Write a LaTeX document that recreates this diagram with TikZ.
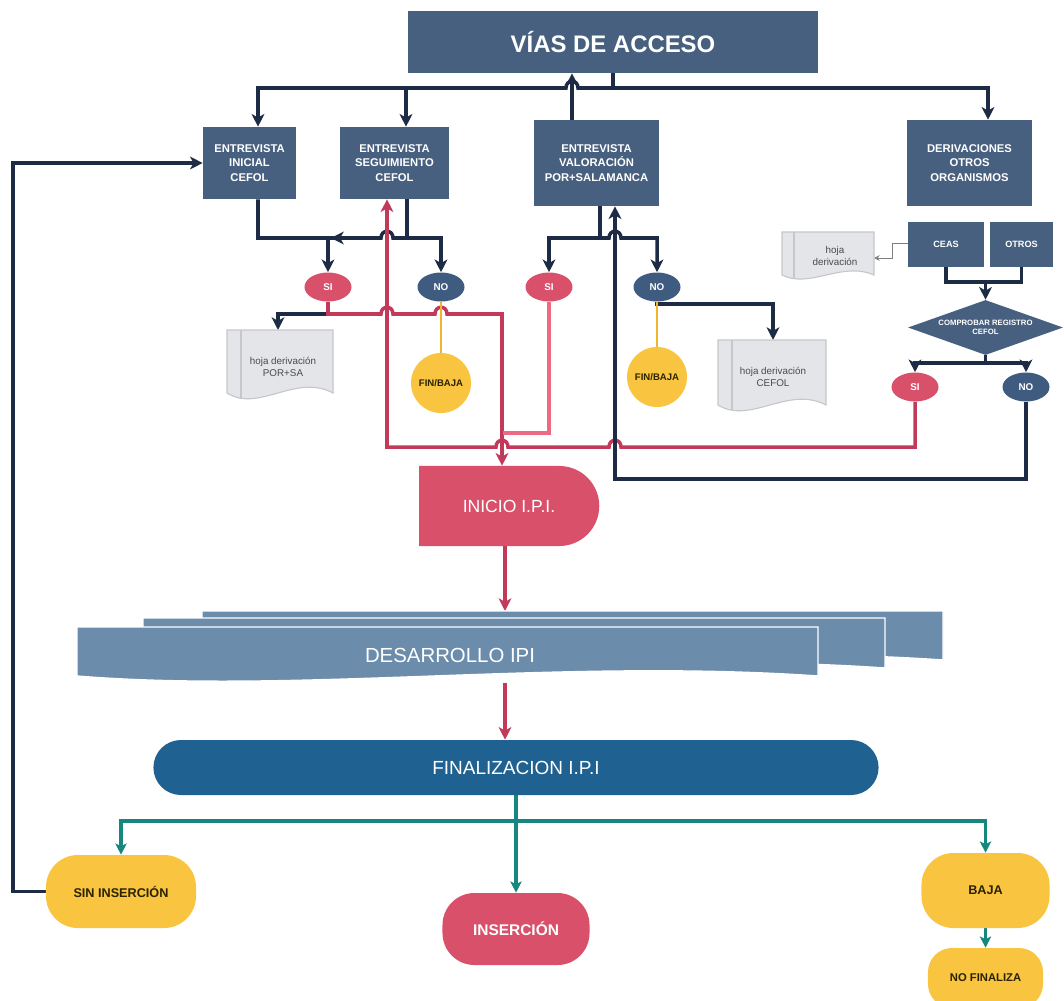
\documentclass[tikz,border=0pt]{standalone}
\usepackage{fontspec}
\setmainfont{Liberation Sans}
\usetikzlibrary{arrows.meta}
\usetikzlibrary{shapes.geometric,shapes.misc}
\usetikzlibrary{backgrounds}
\usepackage{xcolor}

\definecolor{cajaazul}{HTML}{47607F}
\definecolor{lineaazul}{HTML}{1E2B45}
\definecolor{rosa}{HTML}{D9506B}
\definecolor{carmin}{HTML}{C23A5A}
\definecolor{rosaclaro}{HTML}{EE6A84}
\definecolor{noazul}{HTML}{3F5C80}
\definecolor{amarillo}{HTML}{F9C440}
\definecolor{amarillolinea}{HTML}{F0B52A}
\definecolor{desarrollo}{HTML}{6B8CAA}
\definecolor{finazul}{HTML}{1F6190}
\definecolor{verdeazul}{HTML}{16877F}
\definecolor{hojafondo}{HTML}{E4E5E8}
\definecolor{hojaborde}{HTML}{C6C7CB}
\definecolor{hojatexto}{HTML}{4A4A4A}
\definecolor{textooscuro}{HTML}{2A2200}

\newcommand{\docforma}[6]{%
  \path[#1] (#2,#3) -- (#4,#3) -- (#4,#5)
    .. controls ({#2+0.65*(#4-#2)},{#5-#6}) and ({#2+0.3*(#4-#2)},{#5+#6}) .. (#2,#5) -- cycle;}

\tikzset{
  caja/.style={fill=cajaazul, text=white, align=center, inner sep=0pt, font=\fontsize{8}{10.3}\selectfont\bfseries},
  elipseSi/.style={ellipse, fill=rosa, text=white, minimum width=1.175cm, minimum height=0.725cm, inner sep=0pt, font=\fontsize{7}{8}\selectfont\bfseries},
  elipseNo/.style={elipseSi, fill=noazul},
  finbaja/.style={circle, fill=amarillo, text=textooscuro, minimum size=1.5cm, inner sep=0pt, font=\fontsize{6.8}{8}\selectfont\bfseries},
  hojatxt/.style={text=hojatexto, align=center, inner sep=0pt, font=\fontsize{7}{9}\selectfont},
  terminal/.style={rectangle, rounded corners=0.8cm, inner sep=0pt, font=\fontsize{9}{11}\selectfont\bfseries},
  linea/.style={draw=lineaazul, line width=2.5pt},
  flecha/.style={linea, -{Stealth[length=9pt,width=9pt,inset=2.5pt]}},
  lineaR/.style={draw=carmin, line width=2.5pt},
  flechaR/.style={lineaR, -{Stealth[length=9pt,width=9pt,inset=2.5pt]}},
  lineaP/.style={draw=rosaclaro, line width=2.5pt},
  lineaY/.style={draw=amarillolinea, line width=2pt},
  lineaT/.style={draw=verdeazul, line width=2.5pt},
  flechaT/.style={lineaT, -{Stealth[length=8pt,width=8pt,inset=2pt]}},
  lineaG/.style={draw=gray, line width=0.7pt, -{Stealth[length=4pt,width=4pt]}}
}

\begin{document}
\begin{tikzpicture}[x=0.025cm,y=-0.025cm]
\useasboundingbox (0,0) rectangle (1064,1000);

\node[caja, minimum width=10.25cm, minimum height=1.55cm, font=\fontsize{17}{20}\selectfont\bfseries] (vias) at (613,42) {VÍAS DE ACCESO};
\node[caja, minimum width=2.325cm, minimum height=1.8cm] (inicial) at (249.5,163) {ENTREVISTA\\INICIAL\\CEFOL};
\node[caja, minimum width=2.725cm, minimum height=1.8cm] (seguim) at (394.5,163) {ENTREVISTA\\SEGUIMIENTO\\CEFOL};
\node[caja, minimum width=3.125cm, minimum height=2.15cm] (valor) at (596.5,163) {ENTREVISTA\\VALORACIÓN\\POR+SALAMANCA};
\node[caja, minimum width=3.125cm, minimum height=2.15cm] (deriv) at (969.5,163) {DERIVACIONES\\OTROS\\ORGANISMOS};
\node[caja, minimum width=1.9cm, minimum height=1.125cm, font=\fontsize{6.5}{8}\selectfont\bfseries] (ceas) at (946,244.5) {CEAS};
\node[caja, minimum width=1.575cm, minimum height=1.125cm, font=\fontsize{6.5}{8}\selectfont\bfseries] (otros) at (1021.5,244.5) {OTROS};
\node[caja, diamond, aspect=2.8, minimum width=3.875cm, minimum height=1.375cm, font=\fontsize{5.5}{6.5}\selectfont\bfseries] (comprobar) at (985.5,327.5) {COMPROBAR REGISTRO\\CEFOL};

\node[elipseSi] (si1) at (328,287) {SI};
\node[elipseNo] (no1) at (441,287) {NO};
\node[elipseSi] (si2) at (549,287) {SI};
\node[elipseNo] (no2) at (657,287) {NO};
\node[elipseSi] (si3) at (915,387) {SI};
\node[elipseNo] (no3) at (1026,387) {NO};
\node[finbaja] (fin1) at (441,383) {FIN/BAJA};
\node[finbaja] (fin2) at (657,377) {FIN/BAJA};

\docforma{fill=hojafondo,draw=hojaborde,line width=0.8pt}{227}{330}{333}{393}{20}
\draw[hojaborde, line width=0.8pt] (241,330) -- (241,398);
\node[hojatxt] (hojaPor) at (283,367) {hoja derivación\\POR+SA};
\docforma{fill=hojafondo,draw=hojaborde,line width=0.8pt}{718}{340}{826}{405}{20}
\draw[hojaborde, line width=0.8pt] (732,340) -- (732,410);
\node[hojatxt] (hojaCefol) at (773,377) {hoja derivación\\CEFOL};
\docforma{fill=hojafondo,draw=hojaborde,line width=0.8pt}{782}{232}{874}{275}{14}
\draw[hojaborde, line width=0.8pt] (794,232) -- (794,279);
\node[hojatxt] (hojaDer) at (835,256) {hoja\\derivación};

\node[rounded rectangle, rounded rectangle west arc=none, fill=rosa, text=white, minimum width=4.5cm, minimum height=2cm, inner sep=0pt, font=\fontsize{12.5}{14}\selectfont] (inicio) at (509,506) {INICIO I.P.I.};

\docforma{fill=desarrollo,draw=white,line width=1pt}{202}{611}{943}{660}{18}
\docforma{fill=desarrollo,draw=white,line width=1pt}{143}{618}{885}{668}{18}
\docforma{fill=desarrollo,draw=white,line width=1pt}{77}{627}{818}{676}{18}
\node[text=white, font=\fontsize{14.5}{16}\selectfont] (desarrollo) at (450,655) {DESARROLLO IPI};

\node[rounded rectangle, fill=finazul, text=white, minimum width=18.125cm, minimum height=1.375cm, inner sep=0pt, font=\fontsize{13.5}{15}\selectfont] (final) at (516,767.5) {FINALIZACION I.P.I};

\node[terminal, fill=amarillo, text=textooscuro, minimum width=3.75cm, minimum height=1.825cm] (sinins) at (121,891.5) {SIN INSERCIÓN};
\node[terminal, fill=rosa, text=white, minimum width=3.675cm, minimum height=1.8cm, font=\fontsize{11}{13}\selectfont\bfseries] (inser) at (516,929) {INSERCIÓN};
\node[terminal, fill=amarillo, text=textooscuro, minimum width=3.2cm, minimum height=1.875cm] (baja) at (985.5,890.5) {BAJA};
\node[terminal, fill=amarillo, text=textooscuro, minimum width=2.875cm, minimum height=1.5cm, rounded corners=0.6cm, font=\fontsize{8}{10}\selectfont\bfseries] (nofin) at (985.5,978) {NO FINALIZA};

\begin{scope}[on background layer]
\coordinate (busv) at (613,88);
\draw[linea] (vias.south) -- (busv);
\draw[flecha] (busv) -- (578,88) .. controls (578,79) and (566,79) .. (566,88) -- (258,88) -- (inicial.north -| 258,0);
\draw[flecha] (406,88) -- (seguim.north -| 406,0);
\draw[flecha] (busv) -- (988,88) -- (deriv.north -| 988,0);
\draw[flecha] (valor.north -| 572,0) -- (vias.south -| 572,0);

\draw[flecha] (inicial.south -| 258,0) -- (258,238) -- (381,238) .. controls (381,229) and (393,229) .. (393,238) -- (441,238) -- (no1.north);
\draw[linea] (seguim.south -| 407,0) -- (407,238);
\draw[flecha] (347,238) -- (331,238);
\draw[flecha] (328,238) -- (si1.north);

\coordinate (hojaPorN) at (278,330);
\draw[flecha] (si1.south |- 0,314) -- (278,314) -- (hojaPorN);

\draw[flechaR] (si1.south) -- (328,314) -- (381,314) .. controls (381,305) and (393,305) .. (393,314) -- (435,314) .. controls (435,305) and (447,305) .. (447,314) -- (502,314) -- (inicio.north -| 502,0);
\draw[flechaR] (si3.south) -- (915,447) -- (621,447) .. controls (621,438) and (609,438) .. (609,447) -- (508,447) .. controls (508,438) and (496,438) .. (496,447) -- (387,447) -- (seguim.south -| 387,0);
\draw[lineaP] (si2.south) -- (549,433) -- (503,433);

\draw[linea] (valor.south -| 600,0) -- (600,238);
\draw[flecha] (600,238) -- (549,238) -- (si2.north);
\draw[flecha] (600,238) -- (609,238) .. controls (609,229) and (621,229) .. (621,238) -- (657,238) -- (no2.north);
\draw[flecha] (no3.south) -- (1026,479) -- (615,479) -- (valor.south -| 615,0);
\coordinate (hojaCefolN) at (773,340);
\draw[flecha] (no2.south) -- (657,304) -- (773,304) -- (hojaCefolN);

\draw[lineaY] (no1.south) -- (fin1.north);
\draw[lineaY] (no2.south) -- (fin2.north);

\draw[linea] (ceas.south) |- (otros.south |- 0,282) -- (otros.south);
\draw[flecha] (comprobar.north |- 0,282) -- (comprobar.north);
\draw[linea] (comprobar.south) -- (comprobar.south |- 0,363);
\draw[flecha] (comprobar.south |- 0,363) -| (si3.north);
\draw[flecha] (comprobar.south |- 0,363) -| (no3.north);

\coordinate (hojaDerE) at (874,258);
\draw[lineaG] (ceas.west |- 0,243) -- (892,243) -- (892,258) -- (hojaDerE);

\coordinate (desarrolloN) at (505,611);
\coordinate (desarrolloS) at (505,683);
\draw[flechaR] (inicio.south -| desarrolloN) -- (desarrolloN);
\draw[flechaR] (desarrolloS) -- (final.north -| desarrolloS);

\coordinate (tbus) at (516,821);
\draw[lineaT] (final.south) -- (tbus);
\draw[flechaT] (tbus) -| (sinins.north);
\draw[flechaT] (tbus) -| (baja.north);
\draw[flechaT] (tbus) -- (inser.north);
\draw[flechaT] (baja.south) -- (nofin.north);

\draw[flecha] (sinins.west) -- (13,891.5) |- (inicial.west);
\end{scope}
\end{tikzpicture}
\end{document}
